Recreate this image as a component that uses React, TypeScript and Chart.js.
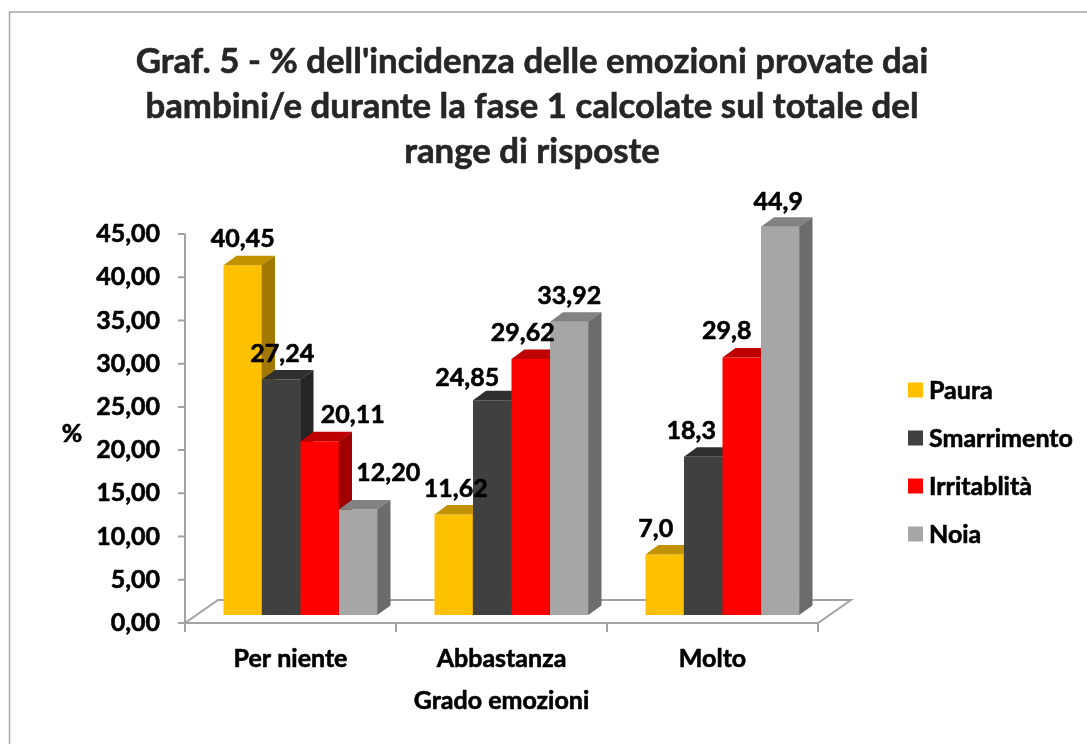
import React, { useEffect, useRef } from 'react';
import { Chart, registerables } from 'chart.js';

Chart.register(...registerables);

// ---------- data ----------
const categories = ['Per niente', 'Abbastanza', 'Molto'];
const seriesNames = ['Paura', 'Smarrimento', 'Irritablità', 'Noia'];
const paura = [40.45, 11.62, 7.0];
const smarrimento = [27.24, 24.85, 18.3];
const irritablita = [20.11, 29.62, 29.8];
const noia = [12.2, 33.92, 44.9];
// decimals shown in each value label
const pauraDecimals = [2, 2, 1];
const smarrimentoDecimals = [2, 2, 1];
const irritablitaDecimals = [2, 2, 1];
const noiaDecimals = [2, 2, 1];
const yTickValues = [0, 5, 10, 15, 20, 25, 30, 35, 40, 45];
const titleLines = [
  "Graf. 5 - % dell'incidenza delle emozioni provate dai",
  'bambini/e durante la fase 1 calcolate sul totale del',
  'range di risposte',
];
const xTitle = 'Grado emozioni';
const yTitle = '%';

// ---------- styles ----------
const frontColors = ['#FFC000', '#404040', '#FF0000', '#A6A6A6'];
const topColors = ['#C39200', '#303030', '#BE0000', '#828282'];
const sideColors = ['#A27900', '#262626', '#A00000', '#6C6C6C'];
// per-label nudges [dx, dy] (px) relative to the default position above each bar
const labelNudges = [
  [[0, 0], [2, 0], [-9, 0]],
  [[1, 0], [-25, 4], [-12, 0]],
  [[33, 0], [-8, 0], [-15, 0]],
  [[30, -11], [0, 0], [-2, 1]],
];

const FONT = 'Lato, "Open Sans", sans-serif';
const LABEL_FONT = `bold 25px ${FONT}`;
const TITLE_FONT = `bold 34.8px ${FONT}`;
const AXIS_COLOR = '#A3A3A3';

// 3D geometry (px)
const BAR_SHIFT_X = 10;
const BAR_SHIFT_Y = -8;
const BAR_DEPTH_X = 13;
const BAR_DEPTH_Y = -9.5;
const FLOOR_DEPTH_X = 33;
const FLOOR_DEPTH_Y = -23;

const fmt = (v: number, d: number) => v.toFixed(d).replace('.', ',');

const poly = (ctx: CanvasRenderingContext2D, pts: number[][], fill: string) => {
  ctx.beginPath();
  ctx.moveTo(pts[0][0], pts[0][1]);
  for (let i = 1; i < pts.length; i++) ctx.lineTo(pts[i][0], pts[i][1]);
  ctx.closePath();
  ctx.fillStyle = fill;
  ctx.fill();
};

const boldText = (ctx: CanvasRenderingContext2D, t: string, x: number, y: number, color: string) => {
  ctx.fillStyle = color;
  ctx.strokeStyle = color;
  ctx.lineWidth = 0.6;
  ctx.lineJoin = 'round';
  ctx.fillText(t, x, y);
  ctx.strokeText(t, x, y);
};

const threeDPlugin = {
  id: 'threeD',
  beforeDraw(chart: any) {
    const { ctx, width, height } = chart;
    ctx.save();
    ctx.fillStyle = '#FFFFFF';
    ctx.fillRect(0, 0, width, height);
    // chart frame
    ctx.strokeStyle = '#A6A6A6';
    ctx.lineWidth = 1.5;
    ctx.beginPath();
    ctx.moveTo(9.5, height + 2);
    ctx.lineTo(9.5, 12);
    ctx.lineTo(width + 2, 12);
    ctx.stroke();

    // title
    ctx.font = TITLE_FONT;
    ctx.textAlign = 'center';
    ctx.textBaseline = 'middle';
    titleLines.forEach((t, i) => boldText(ctx, t, 532, 62 + i * 45, '#262626'));
    ctx.restore();
  },
  beforeDatasetDraw() {
    return false; // bars are drawn in series order by afterDatasetsDraw
  },
  afterDatasetsDraw(chart: any) {
    const { ctx, scales } = chart;
    const xs = scales.x;
    const ys = scales.y;
    const x0 = xs.getPixelForValue(-0.5);
    const x1 = xs.getPixelForValue(categories.length - 0.5);
    const y0 = ys.getPixelForValue(0);
    const yTop = ys.getPixelForValue(ys.max);

    ctx.save();
    // floor
    ctx.strokeStyle = AXIS_COLOR;
    ctx.lineWidth = 2;
    ctx.lineJoin = 'miter';
    ctx.beginPath();
    ctx.moveTo(x0, y0);
    ctx.lineTo(x1, y0);
    ctx.lineTo(x1 + FLOOR_DEPTH_X, y0 + FLOOR_DEPTH_Y);
    ctx.lineTo(x0 + FLOOR_DEPTH_X, y0 + FLOOR_DEPTH_Y);
    ctx.closePath();
    ctx.stroke();
    // y axis line + ticks
    ctx.beginPath();
    ctx.moveTo(x0, y0);
    ctx.lineTo(x0, yTop);
    ys.ticks.forEach((t: any) => {
      const y = ys.getPixelForValue(t.value);
      ctx.moveTo(x0 - 7, y);
      ctx.lineTo(x0, y);
    });
    for (let i = 0; i <= categories.length; i++) {
      const x = xs.getPixelForValue(i - 0.5);
      ctx.moveTo(x, y0);
      ctx.lineTo(x, y0 + 9);
    }
    ctx.stroke();

    // bars in series order
    const datasets = chart.data.datasets;
    for (let s = 0; s < datasets.length; s++) {
      const meta = chart.getDatasetMeta(s);
      meta.data.forEach((el: any) => {
        ctx.save();
        ctx.translate(BAR_SHIFT_X, BAR_SHIFT_Y);
        el.draw(ctx);
        ctx.restore();
        const left = el.x - el.width / 2 + BAR_SHIFT_X;
        const right = el.x + el.width / 2 + BAR_SHIFT_X;
        const top = Math.min(el.y, el.base) + BAR_SHIFT_Y;
        const bottom = Math.max(el.y, el.base) + BAR_SHIFT_Y;
        poly(ctx, [[left, top], [left + BAR_DEPTH_X, top + BAR_DEPTH_Y], [right + BAR_DEPTH_X, top + BAR_DEPTH_Y], [right, top]], topColors[s]);
        poly(ctx, [[right - 0.3, top], [right + BAR_DEPTH_X, top + BAR_DEPTH_Y], [right + BAR_DEPTH_X, bottom + BAR_DEPTH_Y], [right - 0.3, bottom]], sideColors[s]);
      });
    }

    // value labels
    ctx.font = LABEL_FONT;
    ctx.textAlign = 'center';
    ctx.textBaseline = 'middle';
    for (let s = 0; s < datasets.length; s++) {
      const meta = chart.getDatasetMeta(s);
      const dec = (datasets[s] as any).decimals as number[];
      meta.data.forEach((el: any, i: number) => {
        const v = datasets[s].data[i] as number;
        const [dx, dy] = labelNudges[s][i];
        boldText(ctx, fmt(v, dec[i]), el.x + BAR_SHIFT_X + dx, el.y + BAR_SHIFT_Y - 26 + dy, '#000000');
      });
    }

    // y tick labels
    ctx.textAlign = 'right';
    ys.ticks.forEach((t: any) => {
      boldText(ctx, fmt(t.value, 2), 160, ys.getPixelForValue(t.value), '#000000');
    });
    // y title
    ctx.textAlign = 'center';
    boldText(ctx, yTitle, 72, 434, '#000000');
    // category labels
    categories.forEach((c, i) => boldText(ctx, c, xs.getPixelForValue(i), 659, '#000000'));
    // x title
    boldText(ctx, xTitle, (x0 + x1) / 2, 701, '#000000');

    // legend
    ctx.textAlign = 'left';
    seriesNames.forEach((n, i) => {
      const cy = 390 + i * 48;
      ctx.fillStyle = frontColors[i];
      ctx.fillRect(908, cy - 7.5, 15, 15);
      boldText(ctx, n, 929, cy + 1, '#000000');
    });
    ctx.restore();
  },
};

export default function App() {
  const ref = useRef<HTMLCanvasElement>(null);
  useEffect(() => {
    if (!ref.current) return;
    const seriesData = [paura, smarrimento, irritablita, noia];
    const seriesDecimals = [pauraDecimals, smarrimentoDecimals, irritablitaDecimals, noiaDecimals];
    const chart = new Chart(ref.current, {
      type: 'bar',
      data: {
        labels: categories,
        datasets: seriesNames.map((name, i) => ({
          label: name,
          data: seriesData[i],
          decimals: seriesDecimals[i],
          backgroundColor: frontColors[i],
          borderWidth: 0,
          categoryPercentage: 0.73,
          barPercentage: 1,
          clip: false,
        })) as any,
      },
      options: {
        responsive: false,
        animation: false,
        events: [],
        layout: { padding: { left: 185, right: 269, top: 234, bottom: 121 } },
        plugins: {
          legend: { display: false },
          title: { display: false },
          tooltip: { enabled: false },
        },
        scales: {
          x: { display: false, offset: true },
          y: {
            display: false,
            min: yTickValues[0],
            max: yTickValues[yTickValues.length - 1],
            afterBuildTicks: (scale: any) => {
              scale.ticks = yTickValues.map((v) => ({ value: v }));
            },
          },
        },
      },
      plugins: [threeDPlugin],
    });
    return () => chart.destroy();
  }, []);
  return (
    <div style={{ position: 'absolute', left: 0, top: 0, width: 1087, height: 744 }}>
      <canvas ref={ref} width={1087} height={744} style={{ display: 'block' }} />
    </div>
  );
}
